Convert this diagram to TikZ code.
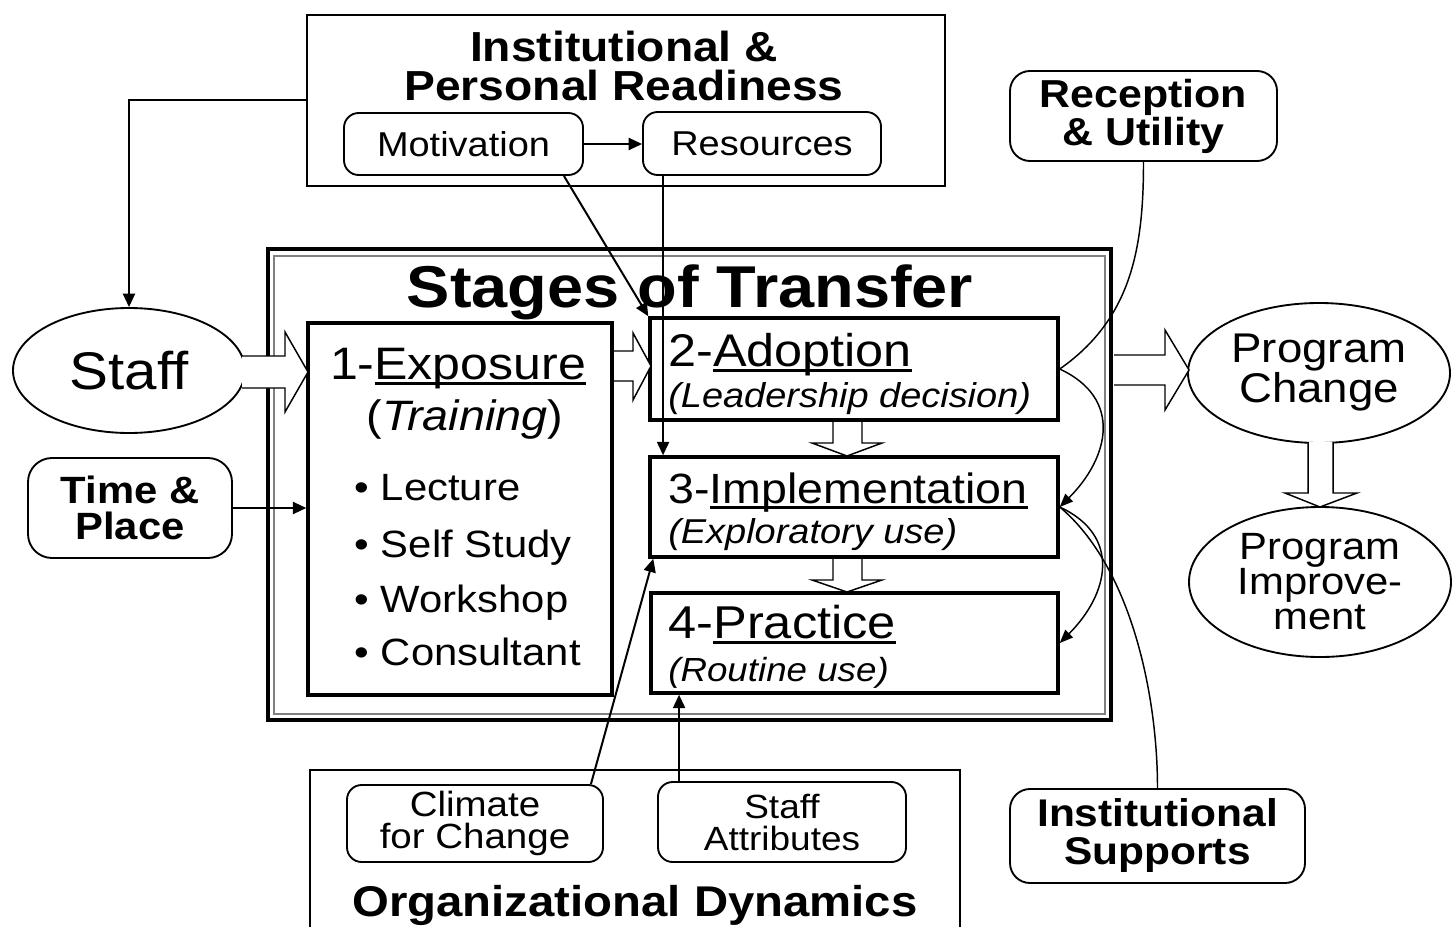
\documentclass[tikz,border=0pt]{standalone}
\usepackage{fontspec}
\setmainfont{Liberation Sans}[FakeStretch=1.1]
\usetikzlibrary{arrows.meta,shapes.geometric}
\newcommand\fs[2]{\fontsize{\fpeval{#1*0.75}pt}{\fpeval{#2*0.75}pt}\selectfont}
\newcommand\ul[1]{\setbox0\hbox{#1}\rlap{\rule[-0.13em]{\wd0}{0.06em}}\box0}
\tikzset{
 conn/.style={line width=1.5pt, -{Triangle[length=10pt,width=9pt]}},
 curv/.style={line width=1.1pt},
 curva/.style={line width=1.1pt, -{Triangle[length=10pt,width=8pt]}},
 rbox/.style={draw, line width=1.4pt, rounded corners=11pt, inner sep=0pt, align=center},
 sbox/.style={draw, line width=2.6pt, inner sep=0pt},
 ell/.style={draw, ellipse, line width=1.4pt, inner sep=0pt, align=center},
 hollow/.style={draw, fill=white, line width=1.1pt, line join=miter},
 sz/.style 2 args={minimum width=#1*0.75pt, minimum height=#2*0.75pt},
 lbl/.style={inner sep=0pt, anchor=base west},
 cbl/.style={inner sep=0pt, anchor=base},
}
\begin{document}
\begin{tikzpicture}[x=0.75pt,y=-0.75pt]
\useasboundingbox (0,0) rectangle (1452,927);

% Institutional & Personal Readiness
\node[draw, line width=1.8pt, sz={638}{171}] (ipr) at (626,100.5) {};
\node[inner sep=0pt, anchor=north, align=center, font=\bfseries\fs{42}{39}] (iprt) at (624,31) {Institutional \&\\Personal Readiness};
\node[rbox, sz={239}{62}, font=\fs{34.5}{34.5}] (mot) at (463.5,144) {Motivation};
\node[rbox, sz={238}{63}, font=\fs{34.5}{34.5}] (res) at (762,143.5) {Resources};

% Staff, Time & Place
\node[ell, sz={232}{125}, font=\fs{53}{53}] (staff) at (129,370.5) {Staff};
\node[rbox, rounded corners=18pt, sz={204}{100}, font=\bfseries\fs{38}{36}] (tp) at (130,508) {Time \&\\Place};

% Stages of Transfer
\node[draw, line width=3pt, sz={843}{471}] (stages) at (689.5,484.5) {};
\node[draw, gray, line width=1.1pt, sz={831}{458}] (stagesin) at (689.5,485) {};
\node[cbl, font=\bfseries\fs{59}{59}] (stt) at (690,307) {Stages of Transfer};

\node[sbox, sz={304}{372}] (expo) at (460,509) {};
\node[cbl, font=\fs{45.5}{45.5}] (expt) at (458,379) {1-\ul{Exposure}};
\node[cbl, font=\fs{42.5}{42.5}] (trn) at (465,430) {(\textit{Training})};
\node[lbl, font=\fs{38}{38}] (b1) at (354,500) {\textbullet\hspace{9pt}Lecture};
\node[lbl, font=\fs{38}{38}] (b2) at (354,557) {\textbullet\hspace{9pt}Self Study};
\node[lbl, font=\fs{38}{38}] (b3) at (354,612) {\textbullet\hspace{9pt}Workshop};
\node[lbl, font=\fs{38}{38}] (b4) at (354,665) {\textbullet\hspace{9pt}Consultant};

\node[sbox, sz={408}{102}] (adopt) at (854,369) {};
\node[lbl, font=\fs{45.8}{45.8}] (adt) at (668,366) {2-\ul{Adoption}};
\node[lbl, font=\itshape\fs{34.5}{34.5}] (ads) at (668,407) {(Leadership decision)};

\node[sbox, sz={408}{100}] (impl) at (854,507) {};
\node[lbl, font=\fs{42.3}{42.3}] (imt) at (668,503) {3-\ul{Implementation}};
\node[lbl, font=\itshape\fs{34.5}{34.5}] (ims) at (668,543) {(Exploratory use)};

\node[sbox, sz={407}{100}] (prac) at (854.5,643) {};
\node[lbl, font=\fs{46}{46}] (prt) at (668,638) {4-\ul{Practice}};
\node[lbl, font=\itshape\fs{33.4}{33.4}] (prs) at (668,681) {(Routine use)};

% Right side
\node[rbox, rounded corners=15pt, sz={267}{90}, font=\bfseries\fs{39}{38}] (rec) at (1143.5,116) {Reception\\\& Utility};
\node[ell, sz={262}{140}, font=\fs{41.5}{40}] (pc) at (1319,373) {Program\\Change};
\node[ell, sz={262}{150}, font=\fs{38}{35}] (pi) at (1320,582) {Program\\Improve-\\ment};
\node[rbox, rounded corners=15pt, sz={295}{94}, font=\bfseries\fs{38.6}{38}] (is) at (1157.5,836) {Institutional\\Supports};

% Organizational Dynamics
\node[draw, line width=1.8pt, sz={650}{180}] (od) at (635,860) {};
\node[cbl, font=\bfseries\fs{43}{43}] (odt) at (635,916) {Organizational Dynamics};
\node[rbox, sz={256}{77}, font=\fs{35}{32}] (clim) at (475,823.5) {Climate\\for Change};
\node[rbox, sz={248}{80}, font=\fs{33.6}{32}] (sa) at (782,822) {Staff\\Attributes};

% hollow block arrows
\path[hollow] (242,356) -- (285,356) -- (285,332) -- (308,372) -- (285,412) -- (285,388) -- (242,388);
\path[hollow] (614,351) -- (633,351) -- (633,333) -- (651,366) -- (633,400) -- (633,381) -- (614,381);
\path[hollow] (833,422) -- (833,443) -- (812,443) -- (847,456) -- (882,443) -- (862,443) -- (862,422);
\path[hollow] (833,559) -- (833,580) -- (812,580) -- (847,592) -- (882,580) -- (862,580) -- (862,559);
\path[hollow] (1114,355) -- (1165,355) -- (1165,330) -- (1189,370) -- (1165,410) -- (1165,385) -- (1114,385);
\path[hollow] (1308,442) -- (1308,493) -- (1285,493) -- (1320,507) -- (1357,493) -- (1333,493) -- (1333,442);

% connectors
\draw[conn] (mot.east) -- (mot.east -| res.west);
\draw[conn] (ipr.west) -| (staff.north);
\draw[conn] (tp.east) -- (tp.east -| expo.west);
\draw[conn] ([xshift=-15pt]mot.south east) -- (adopt.north west);
\draw[conn] ([xshift=15.75pt]res.south west) -- ([xshift=15.75pt]res.south west |- impl.north);
\draw[conn] ([xshift=-9.75pt]clim.north east) -- ([xshift=3.75pt]impl.south west);
\draw[conn] ([xshift=16.5pt]sa.north west) -- ([xshift=16.5pt]sa.north west |- prac.south);

% curved connectors
\draw[curv] (rec.south) to[out=-90, in=35] (adopt.east);
\draw[curva] (adopt.east) to[out=-25, in=45, looseness=1.3] (impl.east);
\draw[curva] (impl.east) to[out=-25, in=45, looseness=1.3] (prac.east);
\draw[curv] (impl.east) to[out=-40, in=90, looseness=0.8] (is.north);
\end{tikzpicture}
\end{document}
